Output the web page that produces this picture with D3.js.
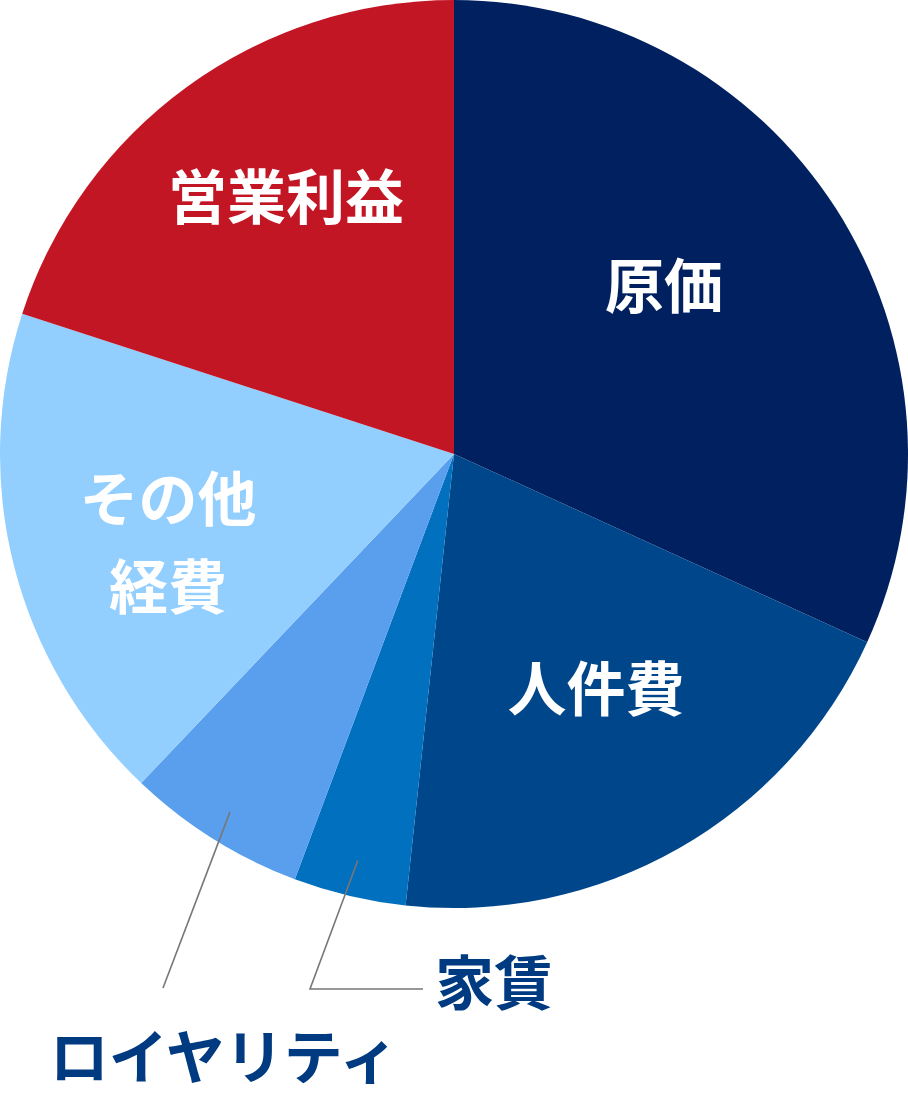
<!DOCTYPE html>
<html>
<head>
<meta charset="utf-8">
<script src="https://cdn.jsdelivr.net/npm/d3@7"></script>
<style>
  html, body { margin: 0; padding: 0; background: #fff; }
  svg { display: block; }
  text { font-family: "Noto Sans CJK JP", "Noto Sans", sans-serif; font-weight: 700; }
</style>
</head>
<body>
<svg id="chart"></svg>
<script>
/* data (percent of sales) */
var categories = ["原価", "人件費", "家賃", "ロイヤリティ", "その他経費", "営業利益"]
var values     = [31.8, 19.9, 4.0, 6.4, 17.9, 20.0]
var colors     = ["#00205f", "#00468b", "#0070bf", "#5a9fee", "#92cefe", "#c31625"]

/* labels drawn inside the slices, one line per entry */
var innerLabels = {
    "原価":       ["原価"],
    "人件費":     ["人件費"],
    "その他経費": ["その他", "経費"],
    "営業利益":   ["営業利益"]
}
/* labels drawn outside with a leader line */
var outerLabels = ["家賃", "ロイヤリティ"]

var W = 908, H = 1100
var cx = 454, cy = 454, R = 454
var fontSize = 59, lineH = 88

var svg = d3.select("#chart").attr("width", W).attr("height", H)
var g = svg.append("g").attr("transform", "translate(" + cx + "," + cy + ")")

var pie = d3.pie().sort(null).value(function (d) { return d.value })
var arcs = pie(categories.map(function (c, i) { return { name: c, value: values[i], color: colors[i] } }))

var arc = d3.arc().innerRadius(0).outerRadius(R)

g.selectAll("path.slice")
    .data(arcs)
    .enter()
    .append("path")
    .attr("class", "slice")
    .attr("d", arc)
    .attr("fill", function (d) { return d.data.color })

function midAngle(d) { return (d.startAngle + d.endAngle) / 2 }

/* inner label centres, relative to the pie centre */
var innerPos = { "原価": [210, -167], "人件費": [142, 236], "その他経費": [-286, 90], "営業利益": [-168, -256] }

arcs.forEach(function (d) {
    var lines = innerLabels[d.data.name]
    if (!lines) return
    var p = innerPos[d.data.name]
    var t = g.append("text")
        .attr("text-anchor", "middle")
        .attr("fill", "#fff")
        .attr("font-size", fontSize)
    lines.forEach(function (l, i) {
        t.append("tspan")
            .attr("x", p[0])
            .attr("y", p[1] + (i - (lines.length - 1) / 2) * lineH)
            .attr("dy", "0.36em")
            .text(l)
    })
})

/* outer labels with leader lines */
var leader = {
    "家賃":         { r: 0.92, pts: [[310, 989], [423, 989]], tx: 494, ty: 984 },
    "ロイヤリティ": { r: 0.93, pts: [[163, 988]],             tx: 224, ty: 1058 }
}

arcs.forEach(function (d) {
    if (outerLabels.indexOf(d.data.name) < 0) return
    var L = leader[d.data.name]
    var a = midAngle(d)
    var start = [cx + Math.sin(a) * R * L.r, cy - Math.cos(a) * R * L.r]
    var pts = [start].concat(L.pts)
    svg.append("path")
        .attr("d", d3.line()(pts))
        .attr("fill", "none")
        .attr("stroke", "#777")
        .attr("stroke-width", 1.6)
    svg.append("text")
        .attr("x", L.tx)
        .attr("y", L.ty)
        .attr("dy", "0.36em")
        .attr("text-anchor", "middle")
        .attr("fill", "#003a80")
        .attr("font-size", fontSize)
        .text(d.data.name)
})
</script>
</body>
</html>
